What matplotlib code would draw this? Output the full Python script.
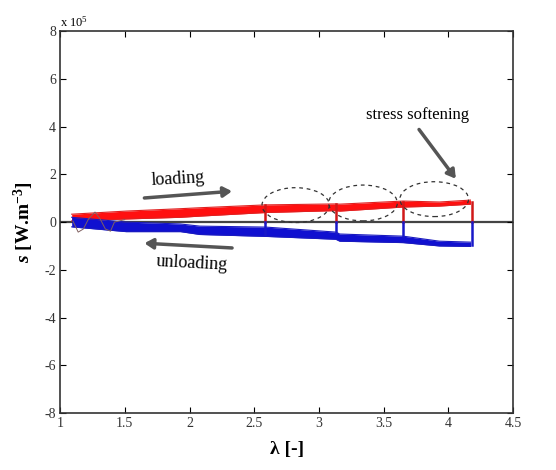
import matplotlib
matplotlib.use("Agg")
import matplotlib.pyplot as plt
from matplotlib.patches import Ellipse

plt.rcParams['font.family'] = ['Liberation Serif', 'DejaVu Serif']
plt.rcParams['mathtext.fontset'] = 'custom'
plt.rcParams['mathtext.rm'] = 'Liberation Serif'
plt.rcParams['mathtext.it'] = 'Liberation Serif:italic'
plt.rcParams['mathtext.bf'] = 'Liberation Serif:bold'
plt.rcParams['mathtext.bfit'] = 'Liberation Serif:bold:italic'
plt.rcParams['axes.unicode_minus'] = False

# values, s in units of 1e5 W.m-3
lam = [1.09, 1.51, 1.93, 2.08, 2.59, 3.13, 3.16, 3.65, 3.93, 4.17]
red_hi = [0.33, 0.46, 0.56, 0.60, 0.72, 0.76, 0.75, 0.88, 0.84, 0.92]
red_lo = [0.05, 0.13, 0.20, 0.25, 0.40, 0.48, 0.46, 0.63, 0.67, 0.75]
blue_hi = [0.20, 0.0, -0.08, -0.17, -0.21, -0.42, -0.50, -0.59, -0.80, -0.84]
blue_lo = [-0.20, -0.40, -0.40, -0.52, -0.60, -0.72, -0.80, -0.86, -1.00, -1.02]

# unloading turning points (lambda max of each cycle) and band edges there
turn_lam = [2.58, 3.13, 3.65, 4.18]
turn_red = [0.71, 0.75, 0.84, 0.85]
turn_blue = [-0.55, -0.45, -0.60, -0.98]

# thin wiggle at the start of the cycles
wig_x = [1.10, 1.14, 1.18, 1.22, 1.27, 1.31, 1.35, 1.39, 1.42, 1.50]
wig_y = [0.04, -0.42, -0.29, 0.13, 0.42, 0.13, -0.29, -0.38, 0.0, 0.10]

# stress softening ellipses: centre x, centre y, width, height
ell_x = [2.82, 3.34, 3.89]
ell_y = [0.71, 0.80, 0.96]
ell_w = [0.52, 0.53, 0.53]
ell_h = [1.46, 1.50, 1.46]

fig = plt.figure(figsize=(5.56, 4.70), dpi=100)
ax = fig.add_axes([0.108, 0.121, 0.815, 0.813])

ax.axhline(0, color='#444444', lw=1.6, zorder=1)

ax.fill_between(lam, red_lo, red_hi, color='#ff1010', lw=0, zorder=3)
ax.plot(lam, red_hi, color='#e02020', lw=0.8, zorder=3)
ax.plot(lam, red_lo, color='#e02020', lw=0.8, zorder=3)
ax.fill_between(lam, blue_lo, blue_hi, color='#1010d0', lw=0, zorder=3)
ax.plot(lam, blue_hi, color='#1a1ac0', lw=0.8, zorder=3)
ax.plot(lam, blue_lo, color='#1a1ac0', lw=0.8, zorder=3)

for i in range(len(turn_lam)):
    ax.plot([turn_lam[i], turn_lam[i]], [turn_red[i], 0], color='#d01818', lw=1.8, zorder=4)
    ax.plot([turn_lam[i], turn_lam[i]], [0, turn_blue[i]], color='#1818c8', lw=1.8, zorder=4)

ax.plot(wig_x, wig_y, color='#806060', lw=0.7, zorder=4)

for i in range(len(ell_x)):
    e = Ellipse((ell_x[i], ell_y[i]), ell_w[i], ell_h[i], fill=False,
                ls=(0, (3, 3)), lw=0.9, color='#333333', zorder=5)
    ax.add_patch(e)

arr = dict(arrowstyle='-|>,head_length=0.5,head_width=0.3', color='#555555', lw=2.5)
ax.annotate('', xy=(2.35, 1.3), xytext=(1.63, 1.0), arrowprops=arr)
ax.annotate('', xy=(1.63, -0.88), xytext=(2.35, -1.09), arrowprops=arr)
ax.annotate('', xy=(4.07, 1.72), xytext=(3.76, 3.97), arrowprops=arr)
ax.text(1.91, 1.8, 'loading', fontsize=13, ha='center', va='center', rotation=3)
ax.text(2.02, -1.72, 'unloading', fontsize=13, ha='center', va='center', rotation=-3)
ax.text(3.76, 4.5, 'stress softening', fontsize=12, ha='center', va='center')

ax.set_xlim(1, 4.5)
ax.set_ylim(-8, 8)
ax.set_xticks([1, 1.5, 2, 2.5, 3, 3.5, 4, 4.5])
ax.set_xticklabels(['1', '1.5', '2', '2.5', '3', '3.5', '4', '4.5'])
ax.set_yticks([-8, -6, -4, -2, 0, 2, 4, 6, 8])
ax.tick_params(direction='in', top=True, right=True, labelsize=10, length=4,
               labelcolor='#333333', pad=3)
for s in ax.spines.values():
    s.set_linewidth(1.2)
    s.set_color('#333333')
ax.text(0.0, 1.005, 'x 10$^5$', transform=ax.transAxes, fontsize=9, va='bottom')

ax.set_xlabel('\u03bb [-]', fontsize=14, fontweight='bold', labelpad=8)
ax.set_ylabel('$\\mathbfit{s}$ [W.m$^{\\mathbf{-3}}$]', fontsize=14, fontweight='bold', labelpad=6)

fig.savefig('out.png', dpi=100)
